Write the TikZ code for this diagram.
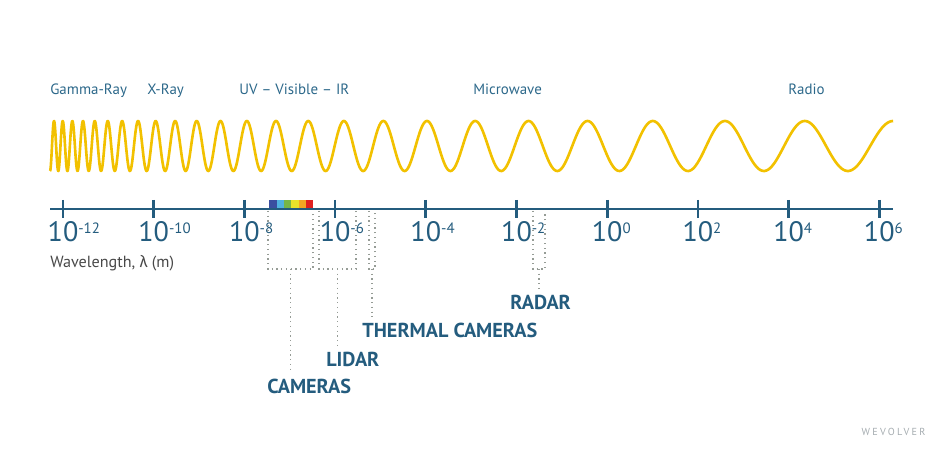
\documentclass[tikz,border=0pt]{standalone}
\usepackage{fontspec}
\setmainfont{PT Sans}
\newfontfamily\greekfont{Fira Sans}
\newfontfamily\markfont[LetterSpace=22]{PT Sans}
\usepackage{tikz}
\usetikzlibrary{positioning}
\definecolor{axisblue}{RGB}{36,92,126}
\definecolor{bandblue}{RGB}{44,104,138}
\definecolor{waveyellow}{RGB}{242,193,0}
\definecolor{dotgray}{RGB}{150,156,150}
\definecolor{captiongray}{RGB}{72,72,72}
\definecolor{markgray}{RGB}{165,172,176}
\definecolor{specA}{RGB}{58,78,160}
\definecolor{specB}{RGB}{80,178,224}
\definecolor{specC}{RGB}{118,182,72}
\definecolor{specD}{RGB}{232,226,42}
\definecolor{specE}{RGB}{244,166,35}
\definecolor{specF}{RGB}{224,32,32}

\begin{document}
\begin{tikzpicture}[x=0.02cm,y=-0.02cm,
  band/.style={text=bandblue,font=\fontsize{8.5}{10}\selectfont,inner sep=0pt,anchor=base west},
  ticklabel/.style={text=axisblue,font=\fontsize{16}{18}\selectfont,inner sep=0pt,anchor=base},
  sensor/.style={text=axisblue,font=\bfseries\fontsize{11.5}{13}\selectfont,inner xsep=0pt,inner ysep=3.4pt,anchor=base west},
  bracket/.style={dotgray,dotted,line width=0.7pt},
  wave/.style={waveyellow,line width=1.5pt,line join=round}]
\useasboundingbox (0,0) rectangle (950,455);

% wave, wavelength growing to the right
\draw[wave] plot[variable=\t,domain=3.1416:157.08,samples=1200]
   ({78*exp((\t-3.1416)/62.35)-28},{146-25*cos(\t r)});

% bands
\node[band] (gamma) at (50,95) {Gamma-Ray};
\node[band] (xray) at (147,95) {X-Ray};
\node[band] (uvir) at (239,95) {UV -- Visible -- IR};
\node[band] (micro) at (473,95) {Microwave};
\node[band] (radio) at (788,95) {Radio};

% axis
\draw[axisblue,line width=1.7pt] (50,209) -- (893,209);
\foreach \i/\e in %
{0/-12,1/-10,2/-8,3/-6,4/-4,5/-2,6/0,7/2,8/4,9/6} {
   \draw[axisblue,line width=1.5pt] (63+90.7*\i,200) -- (63+90.7*\i,218);
   \node[ticklabel] (t\i) at (63+90.7*\i,242)
      {10\rlap{\raisebox{5pt}{\fontsize{8.5}{10}\selectfont\e}}};
}
\node[text=captiongray,font=\fontsize{9.2}{11}\selectfont,inner sep=0pt,anchor=base west]
   (caption) at (50,268) {Wavelength, {\greekfont λ} (m)};

% visible colours
\foreach \c [count=\i from 0] in {specA,specB,specC,specD,specE,specF} {
   \fill[\c] (269.3+7.33*\i,200) rectangle (269.3+7.33*\i+7.33,208);
}

% sensors
\node[sensor] (radar) at (510,310) {RADAR};
\node[sensor] (thermal) at (362,338) {THERMAL CAMERAS};
\node[sensor] (lidar) at (326,367) {LIDAR};
\node[sensor] (cameras) at (267,394) {CAMERAS};

\foreach \s/\l/\r/\n in %
{cam/268/313/cameras,lid/319/356/lidar,thr/369/375/thermal,rad/533/545/radar} {
   \coordinate (\s-l) at (\l,211);
   \coordinate (\s-r) at (\r,211);
   \coordinate (\s-m) at ({(\l+\r)/2},269);
   \draw[bracket] (\s-l) -- (\s-l |- \s-m) -- (\s-r |- \s-m) -- (\s-r);
   \draw[bracket] (\s-m) -- (\s-m |- \n.north);
}

\node[text=markgray,font=\markfont\fontsize{5.8}{7}\selectfont,inner sep=0pt] (mark) at (893.5,431.5) {WEVOLVER};
\end{tikzpicture}
\end{document}
